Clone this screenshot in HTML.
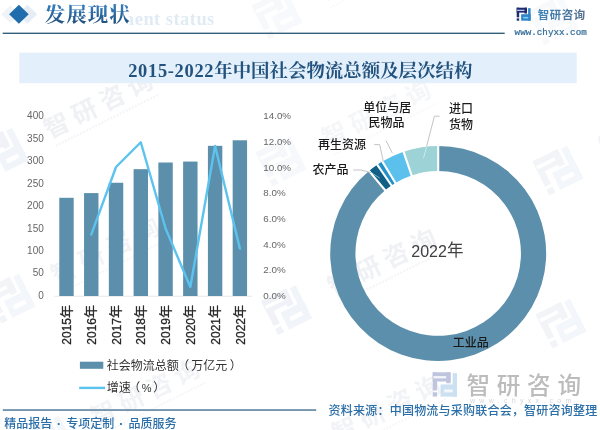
<!DOCTYPE html>
<html lang="zh-CN"><head><meta charset="utf-8"><title>2015-2022年中国社会物流总额及层次结构</title>
<style>html,body{margin:0;padding:0;background:#fff}body{width:600px;height:430px;overflow:hidden}svg{display:block}.s{font-family:"Liberation Sans","Noto Sans CJK SC",sans-serif}.r{font-family:"Liberation Serif","Noto Serif CJK SC",serif}</style></head><body>
<svg width="600" height="430" viewBox="0 0 600 430">
<rect width="600" height="430" fill="#ffffff"/>
<g transform="translate(3.0,152.0) rotate(-26.5)" opacity="1"><g transform="translate(-19.00,-19.00) scale(2.7143,2.7143)" opacity="1"><rect x="0" y="0" width="10.3" height="5.3" fill="#f0f2f7"/><rect x="0" y="0" width="2.5" height="10.4" fill="#f0f2f7"/><rect x="0" y="11.5" width="2.5" height="2.5" fill="#f0f2f7"/><rect x="7.8" y="0" width="2.5" height="6.3" fill="#f0f2f7"/><rect x="0.4" y="2.2" width="7.4" height="1.3" fill="#ffffff"/><rect x="11.5" y="0.5" width="2.5" height="13.5" fill="#f1f5fa"/><rect x="4.5" y="7.0" width="9.5" height="7.0" fill="#f1f5fa"/><rect x="6.6" y="9.9" width="5.0" height="1.7" fill="#ffffff"/></g><text class="s" x="47.5" y="9.2" font-size="25" font-weight="700" fill="#eff1f5" letter-spacing="6">智研咨询</text><line x1="50" y1="18" x2="166" y2="18" stroke="#f3f5f8" stroke-width="2.2" stroke-dasharray="2 1.4"/></g>
<g transform="translate(281.0,161.0) rotate(-26.5)" opacity="0.6"><g transform="translate(-19.00,-19.00) scale(2.7143,2.7143)" opacity="1"><rect x="0" y="0" width="10.3" height="5.3" fill="#f0f2f7"/><rect x="0" y="0" width="2.5" height="10.4" fill="#f0f2f7"/><rect x="0" y="11.5" width="2.5" height="2.5" fill="#f0f2f7"/><rect x="7.8" y="0" width="2.5" height="6.3" fill="#f0f2f7"/><rect x="0.4" y="2.2" width="7.4" height="1.3" fill="#ffffff"/><rect x="11.5" y="0.5" width="2.5" height="13.5" fill="#f1f5fa"/><rect x="4.5" y="7.0" width="9.5" height="7.0" fill="#f1f5fa"/><rect x="6.6" y="9.9" width="5.0" height="1.7" fill="#ffffff"/></g><text class="s" x="47.5" y="9.2" font-size="25" font-weight="700" fill="#eff1f5" letter-spacing="6">智研咨询</text><line x1="50" y1="18" x2="166" y2="18" stroke="#f3f5f8" stroke-width="2.2" stroke-dasharray="2 1.4"/></g>
<g transform="translate(558.0,170.0) rotate(-26.5)" opacity="0.8"><g transform="translate(-19.00,-19.00) scale(2.7143,2.7143)" opacity="1"><rect x="0" y="0" width="10.3" height="5.3" fill="#f0f2f7"/><rect x="0" y="0" width="2.5" height="10.4" fill="#f0f2f7"/><rect x="0" y="11.5" width="2.5" height="2.5" fill="#f0f2f7"/><rect x="7.8" y="0" width="2.5" height="6.3" fill="#f0f2f7"/><rect x="0.4" y="2.2" width="7.4" height="1.3" fill="#ffffff"/><rect x="11.5" y="0.5" width="2.5" height="13.5" fill="#f1f5fa"/><rect x="4.5" y="7.0" width="9.5" height="7.0" fill="#f1f5fa"/><rect x="6.6" y="9.9" width="5.0" height="1.7" fill="#ffffff"/></g><text class="s" x="47.5" y="9.2" font-size="25" font-weight="700" fill="#eff1f5" letter-spacing="6">智研咨询</text><line x1="50" y1="18" x2="166" y2="18" stroke="#f3f5f8" stroke-width="2.2" stroke-dasharray="2 1.4"/></g>
<g transform="translate(10.0,298.0) rotate(-26.5)" opacity="0.8"><g transform="translate(-19.00,-19.00) scale(2.7143,2.7143)" opacity="1"><rect x="0" y="0" width="10.3" height="5.3" fill="#f0f2f7"/><rect x="0" y="0" width="2.5" height="10.4" fill="#f0f2f7"/><rect x="0" y="11.5" width="2.5" height="2.5" fill="#f0f2f7"/><rect x="7.8" y="0" width="2.5" height="6.3" fill="#f0f2f7"/><rect x="0.4" y="2.2" width="7.4" height="1.3" fill="#ffffff"/><rect x="11.5" y="0.5" width="2.5" height="13.5" fill="#f1f5fa"/><rect x="4.5" y="7.0" width="9.5" height="7.0" fill="#f1f5fa"/><rect x="6.6" y="9.9" width="5.0" height="1.7" fill="#ffffff"/></g><text class="s" x="47.5" y="9.2" font-size="25" font-weight="700" fill="#eff1f5" letter-spacing="6">智研咨询</text><line x1="50" y1="18" x2="166" y2="18" stroke="#f3f5f8" stroke-width="2.2" stroke-dasharray="2 1.4"/></g>
<g transform="translate(286.6,309.6) rotate(-26.5)" opacity="1"><g transform="translate(-19.00,-19.00) scale(2.7143,2.7143)" opacity="1"><rect x="0" y="0" width="10.3" height="5.3" fill="#f0f2f7"/><rect x="0" y="0" width="2.5" height="10.4" fill="#f0f2f7"/><rect x="0" y="11.5" width="2.5" height="2.5" fill="#f0f2f7"/><rect x="7.8" y="0" width="2.5" height="6.3" fill="#f0f2f7"/><rect x="0.4" y="2.2" width="7.4" height="1.3" fill="#ffffff"/><rect x="11.5" y="0.5" width="2.5" height="13.5" fill="#f1f5fa"/><rect x="4.5" y="7.0" width="9.5" height="7.0" fill="#f1f5fa"/><rect x="6.6" y="9.9" width="5.0" height="1.7" fill="#ffffff"/></g><text class="s" x="47.5" y="9.2" font-size="25" font-weight="700" fill="#eff1f5" letter-spacing="6">智研咨询</text><line x1="50" y1="18" x2="166" y2="18" stroke="#f3f5f8" stroke-width="2.2" stroke-dasharray="2 1.4"/></g>
<g transform="translate(561.0,323.0) rotate(-26.5)" opacity="0.8"><g transform="translate(-19.00,-19.00) scale(2.7143,2.7143)" opacity="1"><rect x="0" y="0" width="10.3" height="5.3" fill="#f0f2f7"/><rect x="0" y="0" width="2.5" height="10.4" fill="#f0f2f7"/><rect x="0" y="11.5" width="2.5" height="2.5" fill="#f0f2f7"/><rect x="7.8" y="0" width="2.5" height="6.3" fill="#f0f2f7"/><rect x="0.4" y="2.2" width="7.4" height="1.3" fill="#ffffff"/><rect x="11.5" y="0.5" width="2.5" height="13.5" fill="#f1f5fa"/><rect x="4.5" y="7.0" width="9.5" height="7.0" fill="#f1f5fa"/><rect x="6.6" y="9.9" width="5.0" height="1.7" fill="#ffffff"/></g><text class="s" x="47.5" y="9.2" font-size="25" font-weight="700" fill="#eff1f5" letter-spacing="6">智研咨询</text><line x1="50" y1="18" x2="166" y2="18" stroke="#f3f5f8" stroke-width="2.2" stroke-dasharray="2 1.4"/></g>
<g transform="translate(553.0,20.0) rotate(-26.5)" opacity="0.4"><g transform="translate(-19.00,-19.00) scale(2.7143,2.7143)" opacity="1"><rect x="0" y="0" width="10.3" height="5.3" fill="#f0f2f7"/><rect x="0" y="0" width="2.5" height="10.4" fill="#f0f2f7"/><rect x="0" y="11.5" width="2.5" height="2.5" fill="#f0f2f7"/><rect x="7.8" y="0" width="2.5" height="6.3" fill="#f0f2f7"/><rect x="0.4" y="2.2" width="7.4" height="1.3" fill="#ffffff"/><rect x="11.5" y="0.5" width="2.5" height="13.5" fill="#f1f5fa"/><rect x="4.5" y="7.0" width="9.5" height="7.0" fill="#f1f5fa"/><rect x="6.6" y="9.9" width="5.0" height="1.7" fill="#ffffff"/></g><text class="s" x="47.5" y="9.2" font-size="25" font-weight="700" fill="#eff1f5" letter-spacing="6">智研咨询</text><line x1="50" y1="18" x2="166" y2="18" stroke="#f3f5f8" stroke-width="2.2" stroke-dasharray="2 1.4"/></g>
<g transform="translate(277.0,14.0) rotate(-26.5)" opacity="0.5"><g transform="translate(-19.00,-19.00) scale(2.7143,2.7143)" opacity="1"><rect x="0" y="0" width="10.3" height="5.3" fill="#f0f2f7"/><rect x="0" y="0" width="2.5" height="10.4" fill="#f0f2f7"/><rect x="0" y="11.5" width="2.5" height="2.5" fill="#f0f2f7"/><rect x="7.8" y="0" width="2.5" height="6.3" fill="#f0f2f7"/><rect x="0.4" y="2.2" width="7.4" height="1.3" fill="#ffffff"/><rect x="11.5" y="0.5" width="2.5" height="13.5" fill="#f1f5fa"/><rect x="4.5" y="7.0" width="9.5" height="7.0" fill="#f1f5fa"/><rect x="6.6" y="9.9" width="5.0" height="1.7" fill="#ffffff"/></g><text class="s" x="47.5" y="9.2" font-size="25" font-weight="700" fill="#eff1f5" letter-spacing="6">智研咨询</text><line x1="50" y1="18" x2="166" y2="18" stroke="#f3f5f8" stroke-width="2.2" stroke-dasharray="2 1.4"/></g>
<g transform="translate(50.0,440.0) rotate(-26.5)" opacity="0.8"><g transform="translate(-19.00,-19.00) scale(2.7143,2.7143)" opacity="1"><rect x="0" y="0" width="10.3" height="5.3" fill="#f0f2f7"/><rect x="0" y="0" width="2.5" height="10.4" fill="#f0f2f7"/><rect x="0" y="11.5" width="2.5" height="2.5" fill="#f0f2f7"/><rect x="7.8" y="0" width="2.5" height="6.3" fill="#f0f2f7"/><rect x="0.4" y="2.2" width="7.4" height="1.3" fill="#ffffff"/><rect x="11.5" y="0.5" width="2.5" height="13.5" fill="#f1f5fa"/><rect x="4.5" y="7.0" width="9.5" height="7.0" fill="#f1f5fa"/><rect x="6.6" y="9.9" width="5.0" height="1.7" fill="#ffffff"/></g><text class="s" x="47.5" y="9.2" font-size="25" font-weight="700" fill="#eff1f5" letter-spacing="6">智研咨询</text><line x1="50" y1="18" x2="166" y2="18" stroke="#f3f5f8" stroke-width="2.2" stroke-dasharray="2 1.4"/></g>
<g transform="translate(291.0,456.0) rotate(-26.5)" opacity="0.8"><g transform="translate(-19.00,-19.00) scale(2.7143,2.7143)" opacity="1"><rect x="0" y="0" width="10.3" height="5.3" fill="#f0f2f7"/><rect x="0" y="0" width="2.5" height="10.4" fill="#f0f2f7"/><rect x="0" y="11.5" width="2.5" height="2.5" fill="#f0f2f7"/><rect x="7.8" y="0" width="2.5" height="6.3" fill="#f0f2f7"/><rect x="0.4" y="2.2" width="7.4" height="1.3" fill="#ffffff"/><rect x="11.5" y="0.5" width="2.5" height="13.5" fill="#f1f5fa"/><rect x="4.5" y="7.0" width="9.5" height="7.0" fill="#f1f5fa"/><rect x="6.6" y="9.9" width="5.0" height="1.7" fill="#ffffff"/></g><text class="s" x="47.5" y="9.2" font-size="25" font-weight="700" fill="#eff1f5" letter-spacing="6">智研咨询</text><line x1="50" y1="18" x2="166" y2="18" stroke="#f3f5f8" stroke-width="2.2" stroke-dasharray="2 1.4"/></g>
<defs><clipPath id="cp"><rect x="128.5" y="0" width="120" height="32"/></clipPath></defs>
<text class="r" x="52" y="24.6" font-size="18.5" font-weight="700" fill="#e1ebf6" letter-spacing="0.45" clip-path="url(#cp)">Development status</text>
<polygon points="27.5,4.7 37.3,14.2 27.5,23.7 17.7,14.2" fill="#e6edf5"/>
<polygon points="10.5,5.2 19.8,14.2 10.5,23.2 1.2,14.2" fill="#f0f4f9"/>
<polygon points="18.9,4.7 28.7,14.2 18.9,23.7 9.1,14.2" fill="#1f6dad"/>
<defs><linearGradient id="tg" x1="0" y1="0" x2="0" y2="1"><stop offset="0.15" stop-color="#3379b8"/><stop offset="0.9" stop-color="#1f4f7c"/></linearGradient></defs>
<text class="r" x="44.7" y="22.2" font-size="20.5" font-weight="700" fill="url(#tg)" letter-spacing="1">发展现状</text>
<rect x="2.7" y="32.6" width="502" height="1.4" fill="#33617d"/>
<g transform="translate(516.70,7.70) scale(0.9929,0.9286)" opacity="1"><rect x="0" y="0" width="10.3" height="5.3" fill="#1e2b70"/><rect x="0" y="0" width="2.5" height="10.4" fill="#1e2b70"/><rect x="0" y="11.5" width="2.5" height="2.5" fill="#1e2b70"/><rect x="7.8" y="0" width="2.5" height="6.3" fill="#1e2b70"/><rect x="0.4" y="2.2" width="7.4" height="1.3" fill="#c4cdf0"/><rect x="11.5" y="0.5" width="2.5" height="13.5" fill="#2f84c6"/><rect x="4.5" y="7.0" width="9.5" height="7.0" fill="#2f84c6"/><rect x="6.6" y="9.9" width="5.0" height="1.7" fill="#7fd0f5"/></g>
<defs><linearGradient id="lg" x1="0" y1="0" x2="1" y2="0"><stop offset="0" stop-color="#3b86ba"/><stop offset="1" stop-color="#566e8c"/></linearGradient></defs>
<text class="s" x="537.7" y="18.7" font-size="11.4" font-weight="700" fill="url(#lg)" letter-spacing="0.6">智研咨询</text>
<text x="514.6" y="34.8" font-family="'Liberation Mono',monospace" font-size="9.25" fill="#2f6a96" stroke="#2f6a96" stroke-width="0.2">www.chyxx.com</text>
<rect x="19.3" y="52.6" width="557.4" height="30.6" fill="#e3f0fb"/>
<text class="r" x="128.2" y="76.6" font-size="18.45" font-weight="700" fill="#22527d"><tspan letter-spacing="0.68">2015-2022</tspan>年中国社会物流总额及层次结构</text>
<text class="s" x="43.8" y="298.8" font-size="10" fill="#666666" text-anchor="end">0</text>
<text class="s" x="43.8" y="276.4" font-size="10" fill="#666666" text-anchor="end">50</text>
<text class="s" x="43.8" y="253.9" font-size="10" fill="#666666" text-anchor="end">100</text>
<text class="s" x="43.8" y="231.5" font-size="10" fill="#666666" text-anchor="end">150</text>
<text class="s" x="43.8" y="209.0" font-size="10" fill="#666666" text-anchor="end">200</text>
<text class="s" x="43.8" y="186.6" font-size="10" fill="#666666" text-anchor="end">250</text>
<text class="s" x="43.8" y="164.1" font-size="10" fill="#666666" text-anchor="end">300</text>
<text class="s" x="43.8" y="141.7" font-size="10" fill="#666666" text-anchor="end">350</text>
<text class="s" x="43.8" y="119.2" font-size="10" fill="#666666" text-anchor="end">400</text>
<text class="s" x="263.3" y="298.8" font-size="9.8" fill="#666666">0.0%</text>
<text class="s" x="263.3" y="273.1" font-size="9.8" fill="#666666">2.0%</text>
<text class="s" x="263.3" y="247.5" font-size="9.8" fill="#666666">4.0%</text>
<text class="s" x="263.3" y="221.8" font-size="9.8" fill="#666666">6.0%</text>
<text class="s" x="263.3" y="196.2" font-size="9.8" fill="#666666">8.0%</text>
<text class="s" x="263.3" y="170.5" font-size="9.8" fill="#666666">10.0%</text>
<text class="s" x="263.3" y="144.9" font-size="9.8" fill="#666666">12.0%</text>
<text class="s" x="263.3" y="119.2" font-size="9.8" fill="#666666">14.0%</text>
<rect x="54.1" y="295.8" width="198.2" height="0.8" fill="#e2e2e2"/>
<rect x="59.29" y="197.80" width="14.40" height="98.20" fill="#5b8fab"/>
<rect x="84.06" y="193.09" width="14.40" height="102.91" fill="#5b8fab"/>
<rect x="108.83" y="182.75" width="14.40" height="113.25" fill="#5b8fab"/>
<rect x="133.59" y="169.17" width="14.40" height="126.83" fill="#5b8fab"/>
<rect x="158.37" y="162.50" width="14.40" height="133.50" fill="#5b8fab"/>
<rect x="183.13" y="161.56" width="14.40" height="134.44" fill="#5b8fab"/>
<rect x="207.91" y="145.83" width="14.40" height="150.17" fill="#5b8fab"/>
<rect x="232.67" y="140.28" width="14.40" height="155.72" fill="#5b8fab"/>
<polyline points="91.26,234.55 116.03,166.99 140.79,142.24 165.56,228.48 190.33,286.96 215.10,145.96 239.87,248.54" fill="none" stroke="#5cc3ee" stroke-width="2.4" stroke-linejoin="round" stroke-linecap="round"/>
<text class="s" transform="translate(71.19,305.0) rotate(-90)" font-size="12.0" fill="#262626" stroke="#262626" stroke-width="0.3" text-anchor="end">2015<tspan font-size="13" dy="-0.7">年</tspan></text>
<text class="s" transform="translate(95.96,305.0) rotate(-90)" font-size="12.0" fill="#262626" stroke="#262626" stroke-width="0.3" text-anchor="end">2016<tspan font-size="13" dy="-0.7">年</tspan></text>
<text class="s" transform="translate(120.73,305.0) rotate(-90)" font-size="12.0" fill="#262626" stroke="#262626" stroke-width="0.3" text-anchor="end">2017<tspan font-size="13" dy="-0.7">年</tspan></text>
<text class="s" transform="translate(145.49,305.0) rotate(-90)" font-size="12.0" fill="#262626" stroke="#262626" stroke-width="0.3" text-anchor="end">2018<tspan font-size="13" dy="-0.7">年</tspan></text>
<text class="s" transform="translate(170.26,305.0) rotate(-90)" font-size="12.0" fill="#262626" stroke="#262626" stroke-width="0.3" text-anchor="end">2019<tspan font-size="13" dy="-0.7">年</tspan></text>
<text class="s" transform="translate(195.03,305.0) rotate(-90)" font-size="12.0" fill="#262626" stroke="#262626" stroke-width="0.3" text-anchor="end">2020<tspan font-size="13" dy="-0.7">年</tspan></text>
<text class="s" transform="translate(219.80,305.0) rotate(-90)" font-size="12.0" fill="#262626" stroke="#262626" stroke-width="0.3" text-anchor="end">2021<tspan font-size="13" dy="-0.7">年</tspan></text>
<text class="s" transform="translate(244.57,305.0) rotate(-90)" font-size="12.0" fill="#262626" stroke="#262626" stroke-width="0.3" text-anchor="end">2022<tspan font-size="13" dy="-0.7">年</tspan></text>
<rect x="79.9" y="361.7" width="23.4" height="7.1" fill="#5b8fab"/>
<text class="s" x="106.8" y="370.0" font-size="12" fill="#333333">社会物流总额<tspan dx="-1.5">（</tspan><tspan dx="1.8">万亿元</tspan><tspan dx="2.5">）</tspan></text>
<rect x="79.2" y="386.7" width="25.9" height="2.4" fill="#5cc3ee"/>
<text class="s" x="106.8" y="392.3" font-size="12" fill="#333333">增速<tspan dx="-2.6">（</tspan><tspan dx="1.6" font-size="11">%</tspan><tspan dx="1.6">）</tspan></text>
<path d="M438.20,145.95 A107.98,107.50 0 1 1 368.99,170.93 L385.15,190.20 A82.77,82.40 0 1 0 438.20,171.05 Z" fill="#5b8fab"/>
<path d="M368.99,170.93 A107.98,107.50 0 0 1 377.23,164.72 L391.47,185.44 A82.77,82.40 0 0 0 385.15,190.20 Z" fill="#0f5f87"/>
<path d="M377.23,164.72 A107.98,107.50 0 0 1 382.32,161.46 L395.37,182.94 A82.77,82.40 0 0 0 391.47,185.44 Z" fill="#2391c9"/>
<path d="M382.32,161.46 A107.98,107.50 0 0 1 403.51,151.65 L411.61,175.42 A82.77,82.40 0 0 0 395.37,182.94 Z" fill="#5bc1ec"/>
<path d="M403.51,151.65 A107.98,107.50 0 0 1 438.20,145.95 L438.20,171.05 A82.77,82.40 0 0 0 411.61,175.42 Z" fill="#9dd2d6"/>
<line x1="438.20" y1="144.95" x2="438.20" y2="172.05" stroke="#ffffff" stroke-width="2.1"/>
<line x1="368.35" y1="170.17" x2="385.79" y2="190.97" stroke="#ffffff" stroke-width="2.1"/>
<line x1="376.67" y1="163.90" x2="392.03" y2="186.27" stroke="#ffffff" stroke-width="2.1"/>
<line x1="381.80" y1="160.61" x2="395.89" y2="183.80" stroke="#ffffff" stroke-width="2.1"/>
<line x1="403.18" y1="150.70" x2="411.93" y2="176.37" stroke="#ffffff" stroke-width="2.1"/>
<polyline points="439.6,116.2 434.4,116.2 426.5,146.8" fill="none" stroke="#c4c4c4" stroke-width="1"/>
<polyline points="386,140.5 392.4,153.2" fill="none" stroke="#c4c4c4" stroke-width="1"/>
<polyline points="374.2,144.6 379.7,144.6 383.3,161.6" fill="none" stroke="#c4c4c4" stroke-width="1"/>
<polyline points="353.2,170 361,170 371.6,172.8" fill="none" stroke="#c4c4c4" stroke-width="1"/>
<polyline points="426.5,146.8 423.5,158.2" fill="none" stroke="#ffffff" stroke-opacity="0.5" stroke-width="1"/>
<polyline points="392.4,153.2 393.6,156" fill="none" stroke="#ffffff" stroke-opacity="0.5" stroke-width="1"/>
<polyline points="383.3,161.6 384,164.5" fill="none" stroke="#ffffff" stroke-opacity="0.5" stroke-width="1"/>
<polyline points="371.6,172.8 379.7,178.1" fill="none" stroke="#ffffff" stroke-opacity="0.5" stroke-width="1"/>
<text class="s" font-size="12" font-weight="500" fill="#1a1a1a" x="387.3" y="111.6" text-anchor="middle">单位与居</text>
<text class="s" font-size="12" font-weight="500" fill="#1a1a1a" x="386.4" y="126.9" text-anchor="middle">民物品</text>
<text class="s" font-size="12" font-weight="500" fill="#1a1a1a" x="461" y="113" text-anchor="middle">进口</text>
<text class="s" font-size="12" font-weight="500" fill="#1a1a1a" x="461" y="129.2" text-anchor="middle">货物</text>
<text class="s" font-size="12" font-weight="500" fill="#1a1a1a" x="342" y="149" text-anchor="middle">再生资源</text>
<text class="s" font-size="12" font-weight="500" fill="#1a1a1a" x="330.6" y="173.8" text-anchor="middle">农产品</text>
<text class="s" font-size="12" font-weight="500" fill="#1a1a1a" x="470.8" y="346.6" text-anchor="middle">工业品</text>
<text class="s" x="463.4" y="256.8" font-size="16" fill="#404040" text-anchor="end">2022<tspan font-size="16.5" dy="-0.6">年</tspan></text>
<g transform="translate(432.70,372.30) scale(1.7357,1.7357)" opacity="1"><rect x="0" y="0" width="10.3" height="5.3" fill="#c0c5df"/><rect x="0" y="0" width="2.5" height="10.4" fill="#c0c5df"/><rect x="0" y="11.5" width="2.5" height="2.5" fill="#c0c5df"/><rect x="7.8" y="0" width="2.5" height="6.3" fill="#c0c5df"/><rect x="0.4" y="2.2" width="7.4" height="1.3" fill="#f3f6fb"/><rect x="11.5" y="0.5" width="2.5" height="13.5" fill="#cbe0f1"/><rect x="4.5" y="7.0" width="9.5" height="7.0" fill="#cbe0f1"/><rect x="6.6" y="9.9" width="5.0" height="1.7" fill="#f3f6fb"/></g>
<text class="s" x="466.5" y="394.2" font-size="23.6" font-weight="500" fill="#bcbcbc" letter-spacing="6.7">智研咨询</text>
<text class="s" x="470" y="402.5" font-size="7" fill="#d3d6db" letter-spacing="4.3">www.chyxx.com</text>
<rect x="2.8" y="409.2" width="313.4" height="1.7" fill="#6689a5"/>
<text class="s" x="4.2" y="427.7" font-size="12" font-weight="500" fill="#2a6ea8">精品报告<tspan dx="4.9" font-weight="700">·</tspan><tspan dx="5.2">专项定制</tspan><tspan dx="4.9" font-weight="700">·</tspan><tspan dx="5.2">品质服务</tspan></text>
<text class="s" x="328.6" y="414.8" font-size="12" font-weight="500" fill="#2a6ea8" letter-spacing="0.22">资料来源：中国物流与采购联合会，智研咨询整理</text>
</svg></body></html>
